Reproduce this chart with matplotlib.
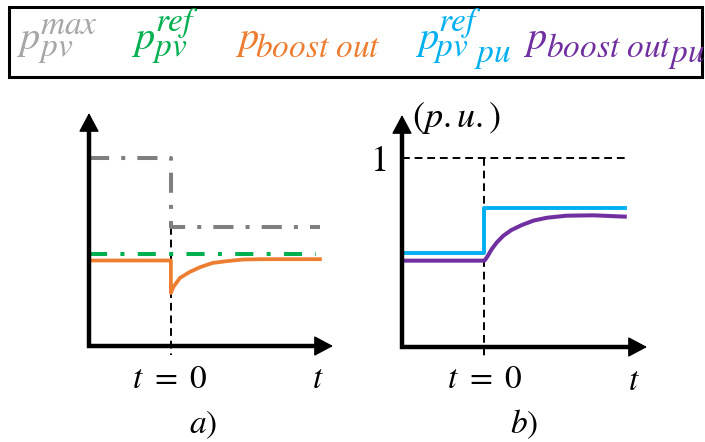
import matplotlib.pyplot as plt
from matplotlib.patches import Rectangle

plt.rcParams['mathtext.fontset'] = 'stix'

# panel a) values (time, per-unit power)
gray_t = [-1, 0, 0, 1.82]
gray_v = [1.0, 1.0, 0.633, 0.633]
green_t = [-1, 1.77]
green_v = [0.49, 0.49]
orange_t = [-1, 0, 0, 0.03, 0.11, 0.23, 0.36, 0.51, 0.69, 0.88, 1.09, 1.82]
orange_v = [0.455, 0.455, 0.282, 0.314, 0.362, 0.394, 0.420, 0.442, 0.452, 0.460, 0.462, 0.462]

# panel b) values
one_t = [-1, 1.71]
one_v = [1.0, 1.0]
blue_t = [-1, 0, 0, 1.71]
blue_v = [0.50, 0.50, 0.737, 0.737]
purple_t = [-1, 0, 0.01, 0.05, 0.09, 0.15, 0.23, 0.33, 0.46, 0.60, 0.76, 1.00, 1.33, 1.71]
purple_v = [0.457, 0.457, 0.460, 0.487, 0.517, 0.552, 0.588, 0.619, 0.646, 0.669, 0.684,
            0.695, 0.697, 0.690]

GRAY_TXT = '#a6a6a6'
GRAY = '#7f7f7f'
GREEN = '#00b050'
ORANGE = '#ed7d31'
BLUE = '#00b0f0'
PURPLE = '#7030a0'

W, H = 705, 442
fig = plt.figure(figsize=(W / 100, H / 100), dpi=100)


def box(l, r, b, t):
    return [l / W, 1 - b / H, (r - l) / W, (b - t) / H]


def ftext(x, y, s, **kw):
    kw.setdefault('va', 'baseline')
    kw.setdefault('ha', 'left')
    fig.text(x / W, 1 - y / H, s, **kw)


def arrows(ax):
    hl = 17 / 233
    ax.plot([0, 0, 1 - hl * 0.6], [1 - hl * 0.6, 0, 0], transform=ax.transAxes,
            color='k', lw=3.2, clip_on=False, solid_joinstyle='miter', zorder=5)
    style = '-|>,head_length=0.6,head_width=0.32'
    for tip, tail in [((0, 1), (0, 0.9)), ((1, 0), (0.9, 0))]:
        ax.annotate('', xy=tip, xytext=tail, xycoords='axes fraction',
                    arrowprops=dict(arrowstyle=style, color='k', lw=1,
                                    mutation_scale=20, shrinkA=0, shrinkB=0),
                    annotation_clip=False, zorder=6)


# legend box
fig.patches.append(Rectangle((9 / W, 1 - 77 / H), 693 / W, 70 / H, transform=fig.transFigure,
                             fill=False, ec='k', lw=2.2))

SUB = 24
MAIN = 29
ftext(16, 49, '$p$', size=MAIN, color=GRAY_TXT)
ftext(40, 34, '$max$', size=SUB, color=GRAY_TXT)
ftext(38, 56, '$pv$', size=SUB, color=GRAY_TXT)

ftext(131, 49, '$p$', size=MAIN, color=GREEN)
ftext(155, 31, '$ref$', size=SUB, color=GREEN)
ftext(152, 56, '$pv$', size=SUB, color=GREEN)

ftext(235, 49, '$p$', size=MAIN, color=ORANGE)
ftext(255, 57, r'$boost\ out$', size=SUB, color=ORANGE)

ftext(415, 49, '$p$', size=MAIN, color=BLUE)
ftext(438, 31, '$ref$', size=SUB, color=BLUE)
ftext(433, 56, '$pv$', size=SUB, color=BLUE)
ftext(474, 62, '$pu$', size=SUB, color=BLUE)

ftext(523, 49, '$p$', size=MAIN, color=PURPLE)
ftext(546, 57, r'$boost\ out$', size=SUB, color=PURPLE)
ftext(668, 62, '$pu$', size=SUB, color=PURPLE)

# panel a
axa = fig.add_axes(box(89, 333, 346, 113))
axa.set_xlim(-1, 1.98)
axa.set_ylim(0, 1.24)
axa.set_axis_off()
axa.plot([0, 0], [0.633, -0.048], color='k', lw=1.4, ls=(0, (4, 2.5)), clip_on=False)
axa.plot(gray_t, gray_v, color=GRAY, lw=2.9, ls=(0, (5, 3, 1, 3)), dash_capstyle='butt')
axa.plot(green_t, green_v, color=GREEN, lw=2.9, ls=(0, (4.5, 3.3, 1, 3.3)), dash_capstyle='butt')
axa.plot(orange_t, orange_v, color=ORANGE, lw=2.7, solid_joinstyle='round')
arrows(axa)

# panel b
axb = fig.add_axes(box(402, 647, 347, 115))
axb.set_xlim(-1, 1.98)
axb.set_ylim(0, 1.228)
axb.set_axis_off()
axb.plot(one_t, one_v, color='k', lw=1.4, ls=(0, (4, 2.5)))
axb.plot([0, 0], [1.0, -0.058], color='k', lw=1.4, ls=(0, (4, 2.5)), clip_on=False)
axb.plot(blue_t, blue_v, color=BLUE, lw=2.8)
axb.plot(purple_t, purple_v, color=PURPLE, lw=2.9, solid_joinstyle='round')
arrows(axb)

# labels
LBL = 24
ftext(170, 388, r'$t\ =\ 0$', size=LBL, ha='center')
ftext(318, 388, '$t$', size=LBL, ha='center')
ftext(203, 433, '$a)$', size=LBL, ha='center')
ftext(485, 388, r'$t\ =\ 0$', size=LBL, ha='center')
ftext(634, 390, '$t$', size=LBL, ha='center')
ftext(524, 433, '$b)$', size=LBL, ha='center')
ftext(378, 171, '$1$', size=26, ha='center')
ftext(412, 127, r'$(p.u.)$', size=26)

fig.savefig('out.png', dpi=100)
